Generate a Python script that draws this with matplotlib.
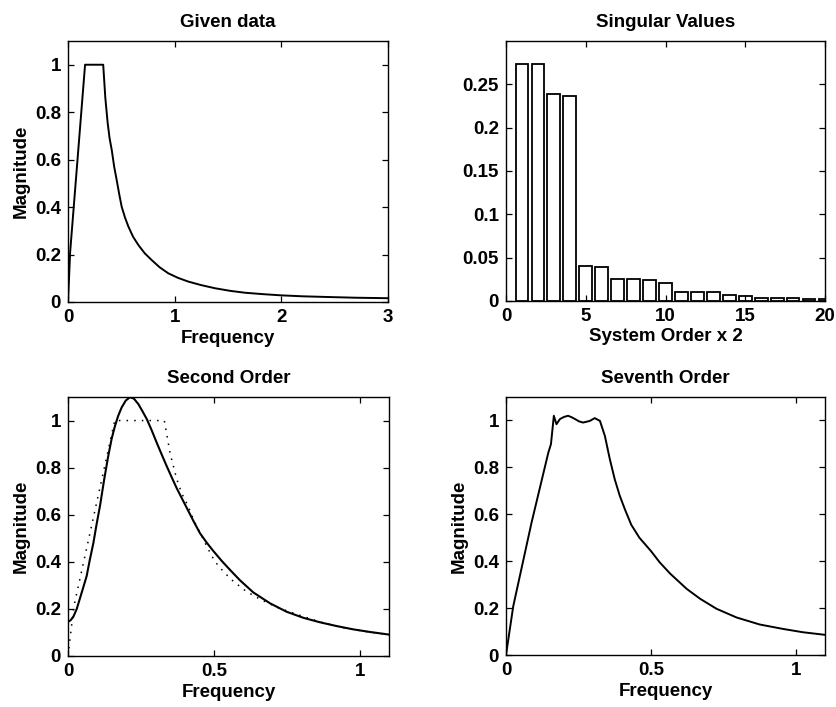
import numpy as np
import matplotlib
matplotlib.use("Agg")
import matplotlib.pyplot as plt
from matplotlib.ticker import FormatStrFormatter

plt.rcParams['font.family'] = ['Liberation Sans', 'DejaVu Sans']
plt.rcParams['font.size'] = 13.5
plt.rcParams['font.weight'] = 'bold'
plt.rcParams['axes.labelweight'] = 'bold'
plt.rcParams['axes.titleweight'] = 'bold'
plt.rcParams['axes.titlesize'] = 13.5

# given frequency response data
freq_given = [0.0, 0.02, 0.16, 0.33, 0.35, 0.372, 0.39, 0.41, 0.433, 0.456, 0.48, 0.503,
              0.535, 0.566, 0.61, 0.66, 0.72, 0.784, 0.86, 0.94, 1.03, 1.128, 1.25,
              1.378, 1.52, 1.66, 1.83, 2.0, 2.2, 2.44, 2.7, 3.0]
mag_given = [0.0, 0.21, 1.0, 1.0, 0.86, 0.754, 0.69, 0.641, 0.57, 0.515, 0.455, 0.402,
             0.355, 0.318, 0.275, 0.24, 0.205, 0.177, 0.146, 0.121, 0.102, 0.086, 0.071,
             0.058, 0.047, 0.039, 0.033, 0.028, 0.024, 0.021, 0.018, 0.016]

# singular values
sv_order = list(range(1, 21))
sv_values = [0.273, 0.273, 0.2385, 0.237, 0.0402, 0.039, 0.0254, 0.025, 0.0238, 0.0211,
             0.0109, 0.0101, 0.0100, 0.0066, 0.0060, 0.0039, 0.0035, 0.0035, 0.0027, 0.0023]

# second order fit
freq_2nd = [0.0, 0.009, 0.018, 0.03, 0.041, 0.052, 0.064, 0.075, 0.087, 0.098, 0.11,
            0.124, 0.138, 0.15, 0.161, 0.172, 0.184, 0.198, 0.212, 0.226, 0.241, 0.255,
            0.27, 0.287, 0.304, 0.321, 0.338, 0.355, 0.372, 0.39, 0.407, 0.43, 0.452,
            0.475, 0.498, 0.526, 0.555, 0.589, 0.635, 0.692, 0.749, 0.807, 0.864, 0.921,
            0.978, 1.035, 1.1]
mag_2nd = [0.145, 0.152, 0.166, 0.2, 0.245, 0.29, 0.34, 0.41, 0.48, 0.56, 0.64,
           0.75, 0.85, 0.925, 0.977, 1.02, 1.056, 1.085, 1.099, 1.093, 1.07, 1.04,
           1.006, 0.958, 0.906, 0.856, 0.807, 0.76, 0.714, 0.67, 0.629, 0.573, 0.522,
           0.482, 0.446, 0.405, 0.366, 0.322, 0.27, 0.224, 0.188, 0.162, 0.143, 0.127,
           0.113, 0.102, 0.091]

# seventh order fit
freq_7th = [0.0, 0.025, 0.088, 0.146, 0.155, 0.165, 0.174, 0.186, 0.2, 0.214, 0.226,
            0.238, 0.252, 0.266, 0.289, 0.306, 0.324, 0.341, 0.358, 0.375, 0.392, 0.41,
            0.432, 0.46, 0.5, 0.53, 0.566, 0.623, 0.669, 0.726, 0.795, 0.875, 0.956,
            1.024, 1.1]
mag_7th = [0.0, 0.208, 0.564, 0.863, 0.899, 1.02, 0.984, 1.006, 1.015, 1.02, 1.014,
           1.006, 0.996, 0.991, 0.998, 1.01, 0.998, 0.934, 0.835, 0.749, 0.68, 0.621,
           0.555, 0.5, 0.443, 0.395, 0.347, 0.282, 0.24, 0.197, 0.16, 0.13, 0.111,
           0.097, 0.086]

fig = plt.figure(figsize=(8.36, 7.07), dpi=100)
W, H = 836, 707


def add_axes(x0, y0, x1, y1):
    return fig.add_axes([x0 / W, 1 - y1 / H, (x1 - x0) / W, (y1 - y0) / H])


ax1 = add_axes(68, 41, 388, 302)
ax2 = add_axes(506, 41, 825, 301)
ax3 = add_axes(68, 397, 389, 656)
ax4 = add_axes(506, 397, 825, 655)

for ax in (ax1, ax2, ax3, ax4):
    ax.tick_params(direction='in', top=True, right=True, length=4, width=0.9, pad=5)
    for s in ax.spines.values():
        s.set_linewidth(1.0)

ax1.plot(freq_given, mag_given, color='black', lw=1.4)
ax1.set_xlim(0, 3)
ax1.set_ylim(0, 1.1)
ax1.set_xticks([0, 1, 2, 3])
ax1.set_yticks([0, 0.2, 0.4, 0.6, 0.8, 1])
ax1.set_title('Given data', pad=10)
ax1.set_xlabel('Frequency', labelpad=3)
ax1.set_ylabel('Magnitude', labelpad=4)

ax2.bar(sv_order, sv_values, width=0.8, color='white', edgecolor='black', linewidth=1.3)
ax2.set_xlim(0, 20)
ax2.set_ylim(0, 0.3)
ax2.set_xticks([0, 5, 10, 15, 20])
ax2.set_yticks([0, 0.05, 0.1, 0.15, 0.2, 0.25])
ax2.set_title('Singular Values', pad=10)
ax2.set_xlabel('System Order x 2', labelpad=2)

ax3.plot(freq_given, mag_given, color='black', lw=1.1, linestyle=(0, (1, 4)))
ax3.plot(freq_2nd, mag_2nd, color='black', lw=1.5)
ax3.set_xlim(0, 1.1)
ax3.set_ylim(0, 1.1)
ax3.set_xticks([0, 0.5, 1])
ax3.set_yticks([0, 0.2, 0.4, 0.6, 0.8, 1])
ax3.set_title('Second Order', pad=10)
ax3.set_xlabel('Frequency', labelpad=3)
ax3.set_ylabel('Magnitude', labelpad=4)

ax4.plot(freq_7th, mag_7th, color='black', lw=1.4)
ax4.set_xlim(0, 1.1)
ax4.set_ylim(0, 1.1)
ax4.set_xticks([0, 0.5, 1])
ax4.set_yticks([0, 0.2, 0.4, 0.6, 0.8, 1])
ax4.set_title('Seventh Order', pad=10)
ax4.set_xlabel('Frequency', labelpad=3)
ax4.set_ylabel('Magnitude', labelpad=4)

for ax in (ax1, ax2, ax3, ax4):
    ax.xaxis.set_major_formatter(FormatStrFormatter('%g'))
    ax.yaxis.set_major_formatter(FormatStrFormatter('%g'))

fig.savefig('out.png', dpi=100)
